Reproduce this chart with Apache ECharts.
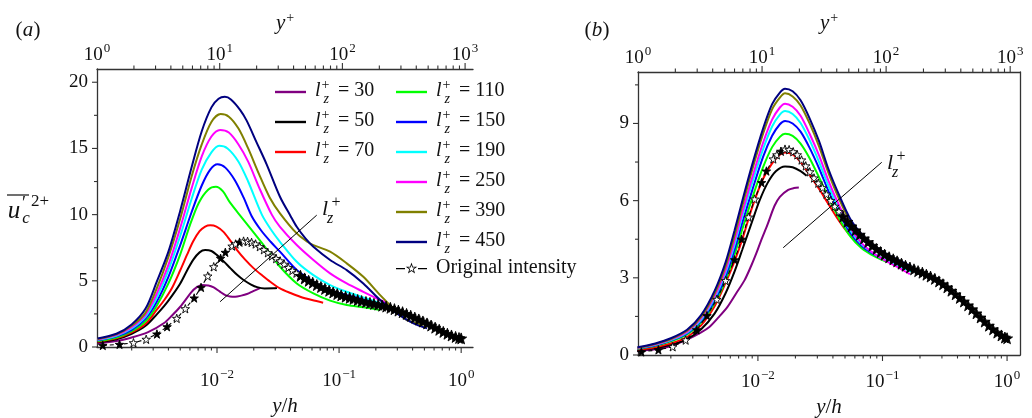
<!DOCTYPE html>
<html><head><meta charset="utf-8">
<script src="https://cdn.jsdelivr.net/npm/echarts@6/dist/echarts.min.js"></script>
<style>html,body{margin:0;padding:0;background:#fff}#c{width:1032px;height:418px}</style>
</head><body><div id="c"></div>
<script>
const FONT = "'Liberation Serif','DejaVu Serif',serif";

// ---------- data ----------
const lzLabels = ['30','50','70','110','150','190','250','390','450'];
const lzColors = ['#800080','#000000','#ff0000','#00ff00','#0000ff','#00ffff','#ff00ff','#808000','#000080'];
const origName = 'Original intensity';

// panel (a): [y/h, value]
const a30 = [[0.00105,0.28],[0.0015,0.45],[0.002,0.72],[0.0027,1.1],[0.00366,1.79],[0.0043,2.4],[0.005,3.04],[0.0062,4.17],[0.0068,4.5],[0.0075,4.68],[0.0085,4.65],[0.0094,4.5],[0.0105,4.2],[0.0117,3.92],[0.0128,3.82],[0.0141,3.8],[0.0158,3.88],[0.0176,4.0],[0.0198,4.22],[0.0225,4.45]];
const a50 = [[0.00105,0.35],[0.0015,0.58],[0.002,1.0],[0.0026,1.6],[0.0032,2.45],[0.0037,3.1],[0.0043,3.9],[0.005,4.8],[0.0057,5.8],[0.0064,6.6],[0.0072,7.15],[0.008,7.32],[0.009,7.25],[0.01,6.94],[0.0114,6.45],[0.0129,5.94],[0.0146,5.45],[0.0165,5.06],[0.019,4.72],[0.0213,4.52],[0.0245,4.42],[0.0292,4.43],[0.031,4.45]];
const a70 = [[0.00105,0.4],[0.0015,0.65],[0.002,1.1],[0.0026,1.75],[0.0032,2.8],[0.0037,3.55],[0.0043,4.5],[0.005,5.8],[0.0057,7.0],[0.0064,8.0],[0.0072,8.75],[0.008,9.1],[0.0088,9.2],[0.0099,9.1],[0.0113,8.7],[0.0128,8.05],[0.0146,7.32],[0.017,6.6],[0.02,5.94],[0.0235,5.4],[0.0273,4.93],[0.0328,4.43],[0.04,4.08],[0.048,3.8],[0.06,3.55],[0.074,3.35]];
const a110 = [[0.00105,0.45],[0.0015,0.72],[0.002,1.2],[0.0026,1.95],[0.0032,3.1],[0.004,4.8],[0.005,7.0],[0.006,9.2],[0.0071,10.9],[0.0085,11.9],[0.0098,12.1],[0.0112,11.75],[0.0128,10.9],[0.0159,9.8],[0.021,8.4],[0.027,7.1],[0.0328,6.06],[0.045,4.8],[0.0616,4.05],[0.0844,3.5],[0.1155,3.17],[0.158,3.0],[0.217,2.8]];
const a150 = [[0.00105,0.5],[0.0015,0.8],[0.002,1.3],[0.0026,2.15],[0.0032,3.4],[0.004,5.3],[0.005,7.7],[0.0062,10.2],[0.0075,12.2],[0.0088,13.4],[0.0101,13.8],[0.0117,13.55],[0.014,12.6],[0.0165,11.3],[0.0192,9.9],[0.023,8.8],[0.0275,7.95],[0.0328,7.2],[0.045,5.81],[0.0616,4.93],[0.0844,4.3],[0.1155,3.92],[0.158,3.6],[0.217,3.17],[0.297,2.67],[0.35,2.3]];
const a190 = [[0.00105,0.54],[0.0015,0.85],[0.002,1.4],[0.0026,2.3],[0.0032,3.7],[0.004,5.8],[0.005,8.4],[0.0062,11.2],[0.0075,13.4],[0.009,14.7],[0.0104,15.2],[0.0122,15.0],[0.015,14.0],[0.018,12.5],[0.0233,10.0],[0.028,8.8],[0.0328,7.95],[0.045,6.44],[0.0616,5.43],[0.0844,4.68],[0.1155,4.17],[0.158,3.75],[0.217,3.3],[0.26,2.92]];
const a250 = [[0.00105,0.57],[0.0015,0.9],[0.002,1.5],[0.0026,2.45],[0.0032,4.0],[0.004,6.2],[0.005,9.0],[0.0062,12.0],[0.0075,14.4],[0.009,15.9],[0.0106,16.4],[0.0125,16.2],[0.015,15.3],[0.018,14.0],[0.022,12.1],[0.0281,10.0],[0.0328,9.08],[0.045,7.7],[0.0616,6.57],[0.0844,5.56],[0.1155,4.8],[0.158,4.17],[0.217,3.55],[0.25,3.3]];
const a390 = [[0.00105,0.6],[0.0015,0.95],[0.002,1.6],[0.0026,2.6],[0.0032,4.4],[0.004,6.8],[0.005,9.7],[0.0062,12.9],[0.0075,15.3],[0.009,17.0],[0.0107,17.6],[0.0125,17.4],[0.015,16.5],[0.018,15.0],[0.022,13.1],[0.027,11.3],[0.0328,10.1],[0.045,8.58],[0.055,7.95],[0.0616,7.7],[0.0844,7.2],[0.1155,6.32],[0.158,5.3],[0.217,3.92],[0.297,2.67],[0.36,2.04],[0.49,1.66]];
const a450 = [[0.00105,0.65],[0.0015,1.0],[0.002,1.7],[0.0026,2.9],[0.0032,4.9],[0.004,7.2],[0.005,10.3],[0.0062,13.6],[0.0075,16.3],[0.009,18.1],[0.0103,18.75],[0.0116,18.9],[0.013,18.7],[0.0155,17.9],[0.0175,17.1],[0.021,15.5],[0.0255,13.8],[0.0328,11.35],[0.04,9.9],[0.045,9.08],[0.053,8.2],[0.0616,7.57],[0.0844,6.57],[0.1155,5.81],[0.158,4.8],[0.217,3.55],[0.297,2.54],[0.407,1.79],[0.525,1.41]];

// panel (b)
const b30 = [[0.00108,0.15],[0.0015,0.22],[0.002,0.35],[0.00275,0.62],[0.0035,0.88],[0.0041,1.1],[0.0048,1.45],[0.0057,1.87],[0.0067,2.4],[0.0078,2.9],[0.0088,3.45],[0.0097,3.95],[0.0106,4.45],[0.012,5.1],[0.0136,5.8],[0.015,6.15],[0.0175,6.42],[0.0195,6.49],[0.0213,6.51]];
const b50 = [[0.00108,0.18],[0.0015,0.27],[0.002,0.4],[0.0027,0.62],[0.0035,1.0],[0.0045,1.62],[0.0055,2.4],[0.0065,3.25],[0.0075,4.1],[0.009,5.2],[0.0103,6.0],[0.012,6.7],[0.014,7.15],[0.0165,7.33],[0.019,7.3],[0.022,7.15],[0.0246,6.97]];
const b70 = [[0.00108,0.2],[0.0015,0.3],[0.002,0.45],[0.0027,0.7],[0.0035,1.15],[0.0045,1.9],[0.0055,2.8],[0.0065,3.65],[0.0075,4.5],[0.009,5.75],[0.011,6.85],[0.013,7.45],[0.015,7.78],[0.0165,7.87],[0.019,7.8],[0.022,7.5],[0.026,7.0],[0.031,6.45],[0.037,5.85],[0.045,5.2],[0.055,4.65],[0.074,4.05]];
const b110 = [[0.00108,0.24],[0.0015,0.36],[0.002,0.53],[0.0027,0.8],[0.0035,1.26],[0.0045,2.02],[0.0055,2.9],[0.0065,3.9],[0.0075,4.9],[0.009,6.1],[0.011,7.3],[0.013,8.08],[0.015,8.48],[0.0165,8.6],[0.019,8.52],[0.022,8.22],[0.026,7.65],[0.031,6.9],[0.037,6.1],[0.045,5.3],[0.055,4.62],[0.068,4.15],[0.085,3.85],[0.11,3.6]];
const b150 = [[0.00108,0.25],[0.0015,0.38],[0.002,0.56],[0.0027,0.84],[0.0035,1.32],[0.0045,2.12],[0.0055,3.05],[0.0065,4.1],[0.0075,5.15],[0.009,6.4],[0.011,7.7],[0.013,8.52],[0.015,8.97],[0.0165,9.1],[0.019,9.0],[0.022,8.68],[0.026,8.05],[0.031,7.25],[0.037,6.35],[0.045,5.5],[0.055,4.75],[0.068,4.25],[0.085,3.92],[0.11,3.65],[0.14,3.42],[0.15,3.35]];
const b190 = [[0.00108,0.26],[0.0015,0.4],[0.002,0.58],[0.0027,0.87],[0.0035,1.37],[0.0045,2.22],[0.0055,3.2],[0.0065,4.3],[0.0075,5.4],[0.009,6.7],[0.011,8.0],[0.013,8.88],[0.015,9.34],[0.0165,9.48],[0.019,9.37],[0.022,9.02],[0.026,8.35],[0.031,7.5],[0.037,6.55],[0.045,5.65],[0.055,4.85],[0.068,4.3],[0.085,3.95],[0.11,3.65],[0.14,3.42],[0.17,3.25]];
const b250 = [[0.00108,0.27],[0.0015,0.41],[0.002,0.6],[0.0027,0.9],[0.0035,1.42],[0.0045,2.3],[0.0055,3.3],[0.0065,4.45],[0.0075,5.55],[0.009,6.9],[0.011,8.25],[0.013,9.15],[0.015,9.62],[0.0165,9.77],[0.019,9.65],[0.022,9.3],[0.026,8.6],[0.031,7.75],[0.037,6.75],[0.045,5.8],[0.055,4.95],[0.068,4.35],[0.085,3.95],[0.11,3.62],[0.14,3.35],[0.166,3.14]];
const b390 = [[0.00108,0.28],[0.0015,0.43],[0.002,0.62],[0.0027,0.94],[0.0035,1.48],[0.0045,2.4],[0.0055,3.45],[0.0065,4.65],[0.0075,5.8],[0.009,7.2],[0.011,8.6],[0.013,9.55],[0.015,10.0],[0.0165,10.17],[0.019,10.05],[0.022,9.7],[0.026,9.0],[0.031,8.1],[0.037,7.05],[0.045,6.05],[0.055,5.2],[0.068,4.6],[0.085,4.15],[0.11,3.82],[0.14,3.58],[0.17,3.4]];
const b450 = [[0.00108,0.3],[0.0015,0.45],[0.002,0.65],[0.0027,0.98],[0.0035,1.55],[0.0045,2.5],[0.0055,3.6],[0.0065,4.85],[0.0075,6.0],[0.009,7.4],[0.011,8.8],[0.013,9.75],[0.015,10.2],[0.0165,10.35],[0.019,10.25],[0.022,9.9],[0.026,9.2],[0.031,8.3],[0.037,7.2],[0.045,6.2],[0.055,5.3],[0.068,4.7],[0.085,4.25],[0.11,3.9],[0.14,3.65],[0.17,3.45]];

// original intensity (same profile in both panels)
const origData = [[0.00116,0.12],[0.00159,0.2],[0.00207,0.32],[0.00263,0.58],[0.00322,0.98],[0.0039,1.53],[0.00468,2.16],[0.0055,2.89],[0.0065,3.7],[0.0074,4.5],[0.0084,5.36],[0.0094,6.06],[0.0107,6.7],[0.0117,7.15],[0.0133,7.62],[0.0142,7.78],[0.0153,7.92],[0.0165,8.0],[0.0178,7.98],[0.0192,7.9],[0.0207,7.78],[0.0224,7.58],[0.0242,7.35],[0.0261,7.12],[0.0282,6.88],[0.0305,6.68],[0.0329,6.5],[0.0355,6.25],[0.0384,6.0],[0.0414,5.78],[0.0447,5.58],[0.0483,5.38],[0.0522,5.18],[0.0563,5.0],[0.0608,4.85],[0.0657,4.68],[0.071,4.53],[0.0766,4.39],[0.0828,4.25],[0.0894,4.12],[0.0965,4.0],[0.104,3.9],[0.113,3.8],[0.122,3.72],[0.131,3.64],[0.142,3.55],[0.153,3.47],[0.166,3.4],[0.179,3.33],[0.193,3.26],[0.209,3.2],[0.225,3.12],[0.243,3.05],[0.263,2.96],[0.284,2.86],[0.306,2.75],[0.331,2.63],[0.357,2.5],[0.386,2.36],[0.417,2.22],[0.45,2.08],[0.486,1.93],[0.525,1.78],[0.567,1.62],[0.612,1.46],[0.661,1.3],[0.714,1.14],[0.771,1.0],[0.833,0.87],[0.9,0.76],[0.96,0.68],[1.0,0.65]];

const panelA = [a30,a50,a70,a110,a150,a190,a250,a390,a450];
const panelB = [b30,b50,b70,b110,b150,b190,b250,b390,b450];

// axis ranges and ticks
const aX = [0.00104, 1.25], aXtop = [1, 1160], aY = [0, 21];
const bX = [0.00109, 1.27], bXtop = [1, 1200], bY = [0, 11];
const yhMajor = [0.01, 0.1, 1];
const yhMinor = [0.002,0.003,0.004,0.005,0.006,0.007,0.008,0.009,0.02,0.03,0.04,0.05,0.06,0.07,0.08,0.09,0.2,0.3,0.4,0.5,0.6,0.7,0.8,0.9];
const ypMajor = [10, 100, 1000];
const ypMinor = [2,3,4,5,6,7,8,9,20,30,40,50,60,70,80,90,200,300,400,500,600,700,800,900];
const aYMajor = [0,5,10,15,20], aYMinor = [2.5,7.5,12.5,17.5];
const bYMajor = [0,3,6,9], bYMinor = [1.5,4.5,7.5,10.5];

// arrows (annotation), in data coordinates
const arrowA = [[0.0106, 3.42],[0.0656, 9.96]];
const arrowB = [[0.01596, 4.17],[0.0986, 7.49]];

// ---------- helpers ----------
const AX = '#333';
const names = lzLabels.map(l => 'lz+ = ' + l);
function legendFmt(n) {
  if (n === origName) return '{o|' + n + '}';
  return '{l|l}{p|+}{z|z}{e| = ' + n.split('= ')[1] + '}';
}
const legendRich = {
  l: {fontFamily: FONT, fontStyle: 'italic', fontSize: 20, color: '#111', verticalAlign: 'bottom', padding: [0,0,5,4]},
  p: {fontFamily: FONT, fontSize: 14, color: '#111', verticalAlign: 'bottom', padding: [0,0,14,1], width: 1},
  z: {fontFamily: FONT, fontStyle: 'italic', fontSize: 14, color: '#111', verticalAlign: 'bottom', padding: [0,0,0,1]},
  e: {fontFamily: FONT, fontSize: 20, color: '#111', verticalAlign: 'bottom', padding: [0,0,5,4]},
  o: {fontFamily: FONT, fontSize: 20, color: '#111', padding: [0,0,0,4]}
};
const LINE_ICON = 'path://M0,0L31,0L31,2.4L0,2.4Z';
const ORIG_ICON = 'path://M0,5.3L9,5.3L9,6.7L0,6.7Z M22,5.3L31,5.3L31,6.7L22,6.7Z ' +
  'M15.5,0L16.91,4.058L21.21,4.146L17.78,6.742L19.03,10.85L15.5,8.4L11.97,10.85L13.22,6.742L9.79,4.146L14.09,4.058Z ' +
  'M15.5,2.4L14.65,4.835L12.08,4.888L14.13,6.445L13.38,8.912L15.5,7.44L17.62,8.912L16.87,6.445L18.92,4.888L16.35,4.835Z';
function logLabel(v) {
  const e = Math.log10(v), r = Math.round(e);
  if (Math.abs(e - r) > 1e-6) return '';
  return '{b|10}{s|' + (r < 0 ? '\u2212' + (-r) : r) + '}';
}
const logRich = {
  b: {fontFamily: FONT, fontSize: 19, color: '#111', verticalAlign: 'bottom'},
  s: {fontFamily: FONT, fontSize: 13, color: '#111', verticalAlign: 'bottom', padding: [0,0,10,1]}
};
function xAxisCfg(grid, pos, ext, name, gap, margin, showMin) {
  return {
    type: 'log', logBase: 10, gridIndex: grid, position: pos, min: ext[0], max: ext[1],
    axisLine: {show: true, onZero: false, lineStyle: {color: AX, width: 1.3}},
    axisTick: {show: false}, splitLine: {show: false}, minorTick: {show: false},
    axisLabel: {formatter: logLabel, rich: logRich, margin: margin, showMinLabel: showMin, showMaxLabel: false},
    name: name, nameLocation: 'middle', nameGap: gap,
    nameTextStyle: {fontFamily: FONT, fontSize: 21, color: '#111',
      rich: {i: {fontFamily: FONT, fontStyle: 'italic', fontSize: 21, color: '#111'},
             s: {fontFamily: FONT, fontSize: 14, color: '#111', verticalAlign: 'bottom', padding: [0,0,10,1]}}}
  };
}
function yAxisCfg(grid, ext, interval) {
  return {
    type: 'value', gridIndex: grid, min: ext[0], max: ext[1], interval: interval,
    axisLine: {show: true, onZero: false, lineStyle: {color: AX, width: 1.3}},
    axisTick: {show: false}, splitLine: {show: false},
    axisLabel: {fontFamily: FONT, fontSize: 19, color: '#111', margin: 9, showMaxLabel: false}
  };
}
// tick marks drawn through the axes' own scales
function tickSeries(xi, yi, data, side, len) {
  return {
    type: 'custom', xAxisIndex: xi, yAxisIndex: yi, silent: true, clip: false, z: 6,
    data: data,
    renderItem: function (params, api) {
      const cs = params.coordSys;
      const p = api.coord([api.value(0), api.value(1)]);
      let s;
      if (side === 'bottom') s = {x1: p[0], y1: cs.y + cs.height, x2: p[0], y2: cs.y + cs.height + len};
      else if (side === 'top') s = {x1: p[0], y1: cs.y, x2: p[0], y2: cs.y - len};
      else s = {x1: cs.x, y1: p[1], x2: cs.x - len, y2: p[1]};
      return {type: 'line', shape: s, style: {stroke: AX, lineWidth: 1.1}};
    }
  };
}
const STAR = 'path://M0,-10L2.35,-3.24L9.51,-3.09L3.8,1.24L5.88,8.09L0,4L-5.88,8.09L-3.8,1.24L-9.51,-3.09L-2.35,-3.24Z';
function starFill(p) {
  const i = p.dataIndex;
  if (i < 17) return (i % 4 < 2) ? '#000' : '#fff';
  if (p.value[0] < 0.045) return '#fff';
  return '#000';
}
function starSize(v) { return v[0] < 0.045 ? 8.5 : 11; }

const series = [];
function addPanel(curves, xi, yi, arrow) {
  curves.forEach((d, i) => {
    series.push({
      type: 'line', name: names[i], xAxisIndex: xi, yAxisIndex: yi, data: d,
      symbol: 'none', smooth: 0.3, z: 2,
      lineStyle: {color: lzColors[i], width: 2}, itemStyle: {color: lzColors[i]},
      markLine: i === 0 ? {
        silent: true, symbol: ['none', 'arrow'], symbolSize: [0, 9],
        label: {show: false}, lineStyle: {color: '#000', width: 1, type: 'solid'},
        data: [[{coord: arrow[0]}, {coord: arrow[1]}]]
      } : undefined
    });
  });
  series.push({
    type: 'line', name: origName, xAxisIndex: xi, yAxisIndex: yi, data: origData,
    symbol: STAR, symbolSize: starSize, showSymbol: true, z: 4,
    lineStyle: {color: '#000', width: 1.1, type: [4, 3]},
    itemStyle: {color: starFill, borderColor: '#000', borderWidth: 0.9}
  });
}
addPanel(panelA, 0, 0, arrowA);
addPanel(panelB, 2, 1, arrowB);

const toPairs = (vals, other) => vals.map(v => [v, other]);
series.push(tickSeries(0, 0, toPairs(yhMajor, 0), 'bottom', 6));
series.push(tickSeries(0, 0, toPairs(yhMinor, 0), 'bottom', 3.5));
series.push(tickSeries(1, 0, toPairs(ypMajor, 0), 'top', 6));
series.push(tickSeries(1, 0, toPairs(ypMinor, 0), 'top', 3.5));
series.push(tickSeries(0, 0, aYMajor.map(v => [aX[0], v]), 'left', 5));
series.push(tickSeries(0, 0, aYMinor.map(v => [aX[0], v]), 'left', 3));
series.push(tickSeries(2, 1, toPairs(yhMajor, 0), 'bottom', 6));
series.push(tickSeries(2, 1, toPairs(yhMinor, 0), 'bottom', 3.5));
series.push(tickSeries(3, 1, toPairs(ypMajor, 0), 'top', 6));
series.push(tickSeries(3, 1, toPairs(ypMinor, 0), 'top', 3.5));
series.push(tickSeries(2, 1, bYMajor.map(v => [bX[0], v]), 'left', 5));
series.push(tickSeries(2, 1, bYMinor.map(v => [bX[0], v]), 'left', 3));

function txt(x, y, text, size, italic, align) {
  return {type: 'text', x: x, y: y, z: 10, silent: true,
    style: {text: text, fill: '#111', align: align || 'center', verticalAlign: 'middle',
      font: (italic ? 'italic ' : '') + size + 'px ' + FONT}};
}
const graphic = [
  txt(19, 30, '(', 21), txt(28, 30, 'a', 21, true), txt(37, 30, ')', 21),
  txt(588, 30, '(', 21), txt(597, 30, 'b', 21, true), txt(606, 30, ')', 21),
  // y-axis title  u'_c^{2+} with overline
  txt(14, 211, 'u', 25, true), txt(24, 204, '\u2032', 18), txt(26, 219, 'c', 17, true), txt(40, 202, '2+', 17),
  {type: 'line', silent: true, z: 10, shape: {x1: 7, y1: 195, x2: 29, y2: 195}, style: {stroke: '#111', lineWidth: 1.2}},
  // arrow labels
  txt(325, 209, 'l', 22, true), txt(336, 203, '+', 16), txt(330, 219, 'z', 16, true),
  txt(890, 163, 'l', 22, true), txt(901, 157, '+', 16), txt(895, 173, 'z', 16, true)
];

function legendData(list) {
  return list.map(n => n === origName
    ? {name: n, icon: ORIG_ICON, itemStyle: {color: '#000', borderWidth: 0}}
    : {name: n, icon: LINE_ICON, itemStyle: {color: lzColors[names.indexOf(n)], borderWidth: 0}});
}
const legendBase = {orient: 'vertical', itemWidth: 31, itemHeight: 12, itemGap: 2, padding: 0,
  formatter: legendFmt, textStyle: {rich: legendRich}, selectedMode: false, symbolKeepAspect: true};

const option = {
  animation: false,
  backgroundColor: '#fff',
  grid: [
    {left: 97, top: 69, width: 376, height: 278, outerBoundsMode: 'none', containLabel: false},
    {left: 638, top: 72, width: 382, height: 283, outerBoundsMode: 'none', containLabel: false}
  ],
  xAxis: [
    xAxisCfg(0, 'bottom', aX, '{i|y}/{i|h}', 48, 21, false),
    xAxisCfg(0, 'top', aXtop, '{i|y}{s|+}', 34, 4, true),
    xAxisCfg(1, 'bottom', bX, '{i|y}/{i|h}', 40, 14, false),
    xAxisCfg(1, 'top', bXtop, '{i|y}{s|+}', 37, 4, true)
  ],
  yAxis: [
    yAxisCfg(0, aY, 5),
    yAxisCfg(1, bY, 3),
    {type: 'value', gridIndex: 1, position: 'right', min: bY[0], max: bY[1],
     axisLine: {show: true, onZero: false, lineStyle: {color: AX, width: 1.3}}, axisTick: {show: false},
     axisLabel: {show: false}, splitLine: {show: false}}
  ],
  legend: [
    Object.assign({data: legendData(names.slice(0, 3)), left: 275, top: 78}, legendBase),
    Object.assign({data: legendData(names.slice(3).concat([origName])), left: 396, top: 78}, legendBase)
  ],
  series: series,
  graphic: graphic
};
const chart = echarts.init(document.getElementById('c'), null, {renderer: 'canvas'});
chart.setOption(option);
</script></body></html>
